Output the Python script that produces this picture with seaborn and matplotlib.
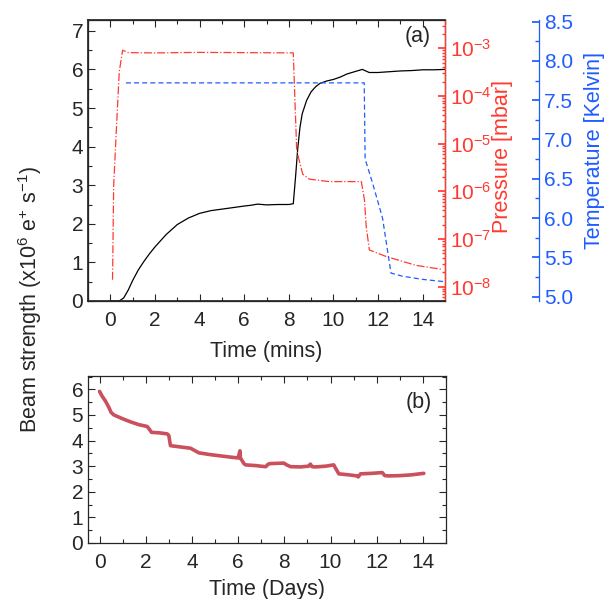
import numpy as np
import pandas as pd
import matplotlib
matplotlib.use("Agg")
import matplotlib.pyplot as plt
import matplotlib.ticker as mticker
import seaborn as sns

# ---------------- data ----------------
# (a) beam strength vs time (mins)
beam_t = [0.0, 0.2, 0.4, 0.6, 0.8, 1.0, 1.25, 1.5, 1.75, 2.0, 2.5, 3.0, 3.5, 4.0, 4.5,
          5.0, 5.5, 6.0, 6.3, 6.6, 7.0, 7.5, 8.0, 8.2, 8.3, 8.4, 8.5, 8.6, 8.8, 9.0,
          9.2, 9.4, 9.7, 10.0, 10.3, 10.6, 11.0, 11.3, 11.6, 12.0, 12.5, 13.0, 13.5,
          14.0, 14.5, 15.0]
beam_v = [0.0, 0.0, 0.0, 0.08, 0.28, 0.53, 0.8, 1.02, 1.22, 1.4, 1.72, 1.98, 2.15, 2.27, 2.34,
          2.38, 2.42, 2.46, 2.48, 2.51, 2.49, 2.5, 2.5, 2.52, 3.2, 3.95, 4.5, 4.85, 5.2, 5.42,
          5.55, 5.64, 5.7, 5.74, 5.8, 5.88, 5.95, 6.0, 5.92, 5.92, 5.94, 5.96, 5.97,
          5.99, 5.99, 6.0]

# pressure (mbar)
pres_t = [0.1, 0.15, 0.3, 0.4, 0.55, 0.8, 2.0, 4.0, 6.0, 8.2, 8.35, 8.43, 8.62, 8.92,
          9.8, 11.25, 11.39, 11.47, 11.61, 12.36, 13.7, 14.9]
pres_v = [1.4e-8, 1.3e-6, 3.7e-5, 3.2e-4, 9.1e-4, 8.1e-4, 8.0e-4, 8.2e-4, 8.1e-4, 8.0e-4,
          8.0e-6, 5.2e-6, 2.3e-6, 1.8e-6, 1.6e-6, 1.6e-6, 6.6e-7, 1.8e-7, 5.9e-8,
          4.3e-8, 2.8e-8, 2.3e-8]

# temperature (Kelvin)
temp_t = [0.7, 3.0, 6.0, 9.0, 11.38, 11.42, 11.76, 12.2, 12.58, 13.1, 14.0, 15.0]
temp_v = [7.72, 7.72, 7.72, 7.72, 7.72, 6.75, 6.44, 6.0, 5.3, 5.26, 5.22, 5.19]

# (b) beam strength vs time (days)
days = [0.0, 0.1, 0.25, 0.4, 0.5, 0.62, 1.0, 1.34, 1.7, 2.06, 2.15, 2.25, 2.6, 2.93, 3.0,
        3.07, 3.5, 3.94, 4.1, 4.3, 4.8, 5.24, 5.7, 6.0, 6.08, 6.1, 6.15, 6.25, 6.32, 6.8,
        6.97, 7.2, 7.3, 7.4, 7.98, 8.1, 8.27, 8.7, 9.05, 9.13, 9.2, 9.35, 9.8, 10.14, 10.2,
        10.36, 10.8, 11.15, 11.2, 11.3, 11.8, 12.24, 12.35, 12.5, 13.0, 13.5, 14.04]
days_v = [5.92, 5.75, 5.55, 5.3, 5.1, 5.0, 4.85, 4.73, 4.62, 4.55, 4.45, 4.32, 4.3, 4.26, 4.2,
          3.8, 3.75, 3.7, 3.62, 3.52, 3.45, 3.4, 3.35, 3.32, 3.6, 3.3, 3.25, 3.1, 3.05, 3.02,
          3.0, 2.98, 3.08, 3.1, 3.12, 3.05, 2.98, 2.97, 3.0, 3.08, 2.98, 2.97, 3.0, 3.05, 2.95,
          2.7, 2.66, 2.62, 2.58, 2.7, 2.72, 2.75, 2.63, 2.62, 2.63, 2.66, 2.72]

# ---------------- style ----------------
sns.set_theme(style="ticks")
plt.rcParams['font.family'] = ['Liberation Sans', 'DejaVu Sans']
plt.rcParams['mathtext.fontset'] = 'custom'
plt.rcParams['mathtext.rm'] = 'Liberation Sans'
plt.rcParams['mathtext.it'] = 'Liberation Sans:italic'
plt.rcParams['mathtext.bf'] = 'Liberation Sans:bold'

FS = 15
LFS = 15.5
RED = '#ff3b30'
BLUE = '#1f5cff'
BAND = '#c9505c'

fig = plt.figure(figsize=(6.06, 5.99), dpi=100)
W, H = 606, 599

def rect(l, t, r, b):
    return [l / W, 1 - b / H, (r - l) / W, (b - t) / H]

ax = fig.add_axes(rect(88, 20, 445, 301))
axb = fig.add_axes(rect(88, 376, 446, 543))

# --- top panel ---
sns.lineplot(x=beam_t, y=beam_v, ax=ax, color='black', linewidth=0.9)
ax.set_xlim(-1, 15)
ax.set_ylim(0, 7.28)
ax.xaxis.set_major_locator(mticker.MultipleLocator(2))
ax.xaxis.set_minor_locator(mticker.MultipleLocator(1))
ax.yaxis.set_major_locator(mticker.MultipleLocator(1))
ax.yaxis.set_minor_locator(mticker.MultipleLocator(0.5))
ax.tick_params(which='both', direction='in', top=True, right=False, labelsize=FS)
ax.tick_params(which='major', length=5, width=0.8)
ax.tick_params(which='minor', length=3, width=0.8)
ax.tick_params(axis='x', pad=7)
ax.set_xlabel('Time (mins)', fontsize=LFS, labelpad=8)
ax.set_ylabel('')
ax.text(0.96, 0.94, '(a)', transform=ax.transAxes, ha='right', va='center', fontsize=LFS)

ax2 = ax.twinx()
sns.lineplot(x=pres_t, y=pres_v, ax=ax2, color=RED, linewidth=0.9, linestyle='-.')
ax2.set_yscale('log')
ax2.set_ylim(10 ** -8.3, 10 ** -2.407)
ax2.yaxis.set_major_locator(mticker.LogLocator(base=10, numticks=20))
ax2.yaxis.set_minor_locator(mticker.LogLocator(base=10, subs=np.arange(2, 10) * 1.0, numticks=50))
ax2.yaxis.set_minor_formatter(mticker.NullFormatter())
ax2.tick_params(which='both', direction='in', colors=RED, labelsize=FS)
ax2.tick_params(which='major', length=5)
ax2.tick_params(which='minor', length=2.5)
ax2.spines['right'].set_color(RED)
ax2.set_ylabel('Pressure [mbar]', color=RED, fontsize=LFS)
ax2.yaxis.set_label_coords(1.132, 0.514)

ax3 = ax.twinx()
sns.lineplot(x=temp_t, y=temp_v, ax=ax3, color=BLUE, linewidth=0.9, linestyle=(0, (4, 2.5)))
ax3.spines['right'].set_position(('axes', 1.263))
for s in ['top', 'bottom', 'left']:
    ax3.spines[s].set_visible(False)
ax3.spines['right'].set_color(BLUE)
ax3.set_ylim(4.945, 8.52)
ax3.yaxis.set_major_locator(mticker.MultipleLocator(0.5))
ax3.yaxis.set_minor_locator(mticker.MultipleLocator(0.25))
ax3.yaxis.set_major_formatter(mticker.FormatStrFormatter('%.1f'))
ax3.tick_params(which='both', direction='in', colors=BLUE, labelsize=FS)
ax3.tick_params(which='major', length=5)
ax3.tick_params(which='minor', length=3)
ax3.set_ylabel('Temperature [Kelvin]', color=BLUE, fontsize=LFS)
ax3.yaxis.set_label_coords(1.389, 0.537)

# --- bottom panel ---
sns.lineplot(x=days, y=days_v, ax=axb, color=BAND, linewidth=2.6)
axb.set_xlim(-0.5, 15)
axb.set_ylim(0, 6.52)
axb.xaxis.set_major_locator(mticker.MultipleLocator(2))
axb.xaxis.set_minor_locator(mticker.MultipleLocator(1))
axb.yaxis.set_major_locator(mticker.MultipleLocator(1))
axb.yaxis.set_minor_locator(mticker.MultipleLocator(0.5))
axb.tick_params(which='both', direction='in', top=True, right=True, labelsize=FS)
axb.tick_params(which='major', length=5, width=0.8)
axb.tick_params(which='minor', length=3, width=0.8)
axb.tick_params(axis='x', pad=7)
axb.set_xlabel('Time (Days)', fontsize=LFS, labelpad=5)
axb.set_ylabel('')
axb.text(0.96, 0.84, '(b)', transform=axb.transAxes, ha='right', va='center', fontsize=LFS)

for a in (ax, axb):
    for s in a.spines.values():
        s.set_linewidth(0.9)
ax2.spines['right'].set_linewidth(0.9)
ax3.spines['right'].set_linewidth(0.9)

fig.text(30 / W, 1 - 300 / H, r'Beam strength (x10$^{6}$ e$^{+}$ s$^{-1}$)',
         rotation=90, ha='center', va='center', fontsize=LFS)

fig.savefig('out.png', dpi=100)
